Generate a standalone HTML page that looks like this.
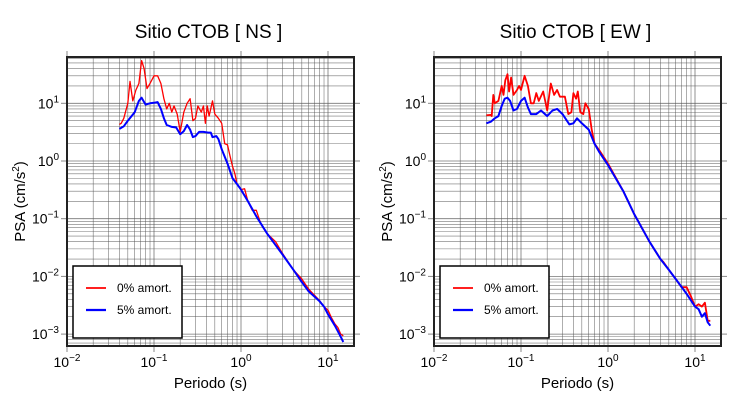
<!DOCTYPE html>
<html><head><meta charset="utf-8"><style>
body{margin:0;background:#fff}
svg{font-family:"Liberation Sans",sans-serif;display:block}
</style></head><body>
<svg id="s" width="730" height="400" xmlns="http://www.w3.org/2000/svg"></svg>
<script>
const S=document.getElementById('s');let h='';
const T=57,B=346,W=287;
const xm=-2, xd=87, y1=103.3, yd=57.7;
function X(ox,t){return ox+(Math.log10(t)-xm)*xd}
function Y(v){return y1-(Math.log10(v)-1)*yd}
const data={
NS:{r:[[0.04,4.3],[0.042,4.5],[0.045,5.5],[0.05,10],[0.053,24],[0.057,11],[0.062,17],[0.067,22],[0.072,55],[0.077,40],[0.083,18],[0.09,22],[0.1,30],[0.11,30],[0.12,22],[0.13,12],[0.14,8],[0.15,10],[0.16,7],[0.17,9],[0.185,6.5],[0.2,3.2],[0.22,7],[0.24,10],[0.26,12],[0.28,5],[0.3,5.5],[0.32,9],[0.35,7],[0.37,9],[0.39,4.5],[0.41,9],[0.43,6],[0.47,11],[0.5,6.5],[0.55,5.5],[0.6,4.5],[0.65,2],[0.7,1.9],[0.75,1.2],[0.8,0.8],[0.85,0.6],[0.9,0.4],[1.0,0.32],[1.1,0.33],[1.2,0.2],[1.35,0.14],[1.5,0.14],[1.7,0.08],[2,0.055],[2.5,0.04],[3,0.025],[4,0.013],[5,0.009],[6,0.006],[8,0.0038],[9,0.003],[10,0.0026],[11,0.0019],[12,0.0015],[13,0.0013],[14,0.001],[15,0.00093]],
b:[[0.04,3.6],[0.045,4],[0.05,5],[0.06,7],[0.067,11],[0.072,12.5],[0.08,9.5],[0.09,10],[0.1,10.2],[0.11,10.5],[0.12,8],[0.13,5.5],[0.14,4.2],[0.16,3.9],[0.18,3.8],[0.2,2.9],[0.22,3.3],[0.24,4.2],[0.26,3.5],[0.28,2.6],[0.3,2.7],[0.33,3.2],[0.37,3.2],[0.42,3.1],[0.45,3.1],[0.47,2.6],[0.52,2.7],[0.55,2.4],[0.6,1.6],[0.7,0.9],[0.8,0.5],[0.9,0.4],[1,0.32],[1.2,0.2],[1.5,0.11],[2,0.055],[3,0.024],[4,0.013],[5,0.008],[6,0.0055],[8,0.0037],[9,0.003],[10,0.0022],[12,0.0014],[14,0.0009],[15,0.00073]]},
EW:{r:[[0.04,6.2],[0.045,6.3],[0.046,6],[0.048,14],[0.05,10],[0.055,11],[0.06,20],[0.063,14],[0.066,25],[0.07,32],[0.073,16],[0.077,28],[0.082,14],[0.09,17],[0.095,20],[0.1,17],[0.11,30],[0.12,20],[0.13,10],[0.14,10],[0.15,15],[0.16,11],[0.18,16],[0.2,7.5],[0.22,22],[0.24,14],[0.26,17],[0.28,13],[0.32,13],[0.35,6.5],[0.38,7],[0.4,15],[0.43,12],[0.45,16],[0.48,7],[0.52,6.5],[0.55,10],[0.6,8],[0.65,3.5],[0.7,2],[0.8,1.5],[1,0.9],[1.5,0.3],[2,0.12],[3,0.04],[4,0.02],[4.3,0.018],[5,0.013],[6,0.009],[7,0.0065],[8,0.0065],[9,0.0045],[10,0.003],[11,0.0033],[12,0.003],[13,0.0035],[14,0.0017],[15,0.0017]],
b:[[0.04,4.5],[0.045,4.8],[0.05,5.5],[0.055,6],[0.06,9],[0.065,12],[0.07,12.5],[0.075,11],[0.082,7.5],[0.09,8],[0.1,11],[0.11,12.5],[0.12,8.5],[0.13,6.5],[0.15,6.5],[0.17,7.5],[0.2,6],[0.23,7.5],[0.26,8],[0.3,6.5],[0.36,4.3],[0.4,4.5],[0.44,5.5],[0.5,4.5],[0.6,3.5],[0.7,2],[0.8,1.4],[1,0.85],[1.5,0.3],[2,0.12],[3,0.04],[4,0.02],[5,0.013],[6,0.009],[8,0.005],[10,0.003],[11,0.0027],[12,0.002],[13,0.0023],[14,0.0016],[15,0.0014]]}};
function panel(ox,name){
 const R=ox+W;
 h+=`<text x="${ox+W/2-2}" y="38" font-size="19" text-anchor="middle">Sitio CTOB [ ${name} ]</text>`;
 for(let e=-2;e<=1;e++)for(let m=1;m<=9;m++){const x=X(ox,m*Math.pow(10,e));if(x>R)continue;
  h+=`<line x1="${x}" y1="${T}" x2="${x}" y2="${B}" stroke="#555" stroke-width="${m==1?0.8:0.6}" opacity="0.8"/>`;
  if(m==1){h+=`<line x1="${x}" y1="${B}" x2="${x}" y2="${B+6}" stroke="#888" stroke-width="1"/><line x1="${x}" y1="${T-6}" x2="${x}" y2="${T}" stroke="#888" stroke-width="1"/>`;}}
 for(let e=-4;e<=1;e++)for(let m=1;m<=9;m++){const y=Y(m*Math.pow(10,e));if(y<T||y>B)continue;
  h+=`<line x1="${ox}" y1="${y}" x2="${R}" y2="${y}" stroke="#555" stroke-width="${m==1?0.8:0.6}" opacity="0.8"/>`;
  if(m==1){h+=`<line x1="${ox-6}" y1="${y}" x2="${ox}" y2="${y}" stroke="#888"/><line x1="${R}" y1="${y}" x2="${R+6}" y2="${y}" stroke="#888"/>`;}}
 for(let e=-2;e<=1;e++){const x=X(ox,Math.pow(10,e));h+=`<text x="${x}" y="367" font-size="14" text-anchor="middle">10<tspan dy="-6" font-size="10">${e<0?'−'+(-e):e}</tspan></text>`;}
 for(let e=-3;e<=1;e++){const y=Y(Math.pow(10,e));h+=`<text x="${ox-8}" y="${y+5}" font-size="14" text-anchor="end">10<tspan dy="-6" font-size="10">${e<0?'−'+(-e):e}</tspan></text>`;}
 h+=`<text x="${ox+W/2}" y="388" font-size="15" text-anchor="middle">Periodo (s)</text>`;
 h+=`<text transform="translate(${ox-42},${(T+B)/2}) rotate(-90)" font-size="15" text-anchor="middle">PSA (cm/s<tspan dy="-6" font-size="10">2</tspan><tspan dy="6">)</tspan></text>`;
 const d=data[name];
 const pl=(a)=>a.map(p=>X(ox,p[0]).toFixed(1)+','+Y(p[1]).toFixed(1)).join(' ');
 h+=`<polyline points="${pl(d.r)}" fill="none" stroke="#f00" stroke-width="${name=='NS'?1.3:1.8}" stroke-linejoin="round"/>`;
 h+=`<polyline points="${pl(d.b)}" fill="none" stroke="#00f" stroke-width="2" stroke-linejoin="round"/>`;
 h+=`<rect x="${ox}" y="${T}" width="${W}" height="${B-T}" fill="none" stroke="#222" stroke-width="2"/>`;
 const lx=ox+6;
 h+=`<rect x="${lx}" y="266" width="109" height="72" fill="#fff" stroke="#000" stroke-width="1.5"/>`;
 h+=`<line x1="${lx+13}" y1="288" x2="${lx+33}" y2="288" stroke="#f00" stroke-width="1.8"/><text x="${lx+44}" y="292" font-size="12">0% amort.</text>`;
 h+=`<line x1="${lx+13}" y1="310" x2="${lx+33}" y2="310" stroke="#00f" stroke-width="2.2"/><text x="${lx+44}" y="314" font-size="12">5% amort.</text>`;
}
panel(67,'NS');panel(434,'EW');
S.innerHTML=h;
</script>
</body></html>
